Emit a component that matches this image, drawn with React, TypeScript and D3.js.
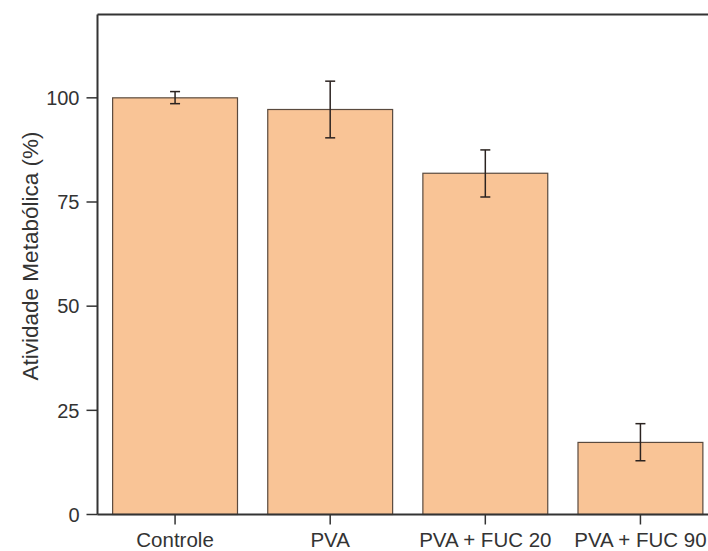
import React from "react";
import * as d3 from "d3";

const categories = ["Controle", "PVA", "PVA + FUC 20", "PVA + FUC 90"];
const values = [100.0, 97.2, 81.9, 17.3];
const errLow = [98.6, 90.4, 76.2, 12.9];
const errHigh = [101.5, 104.0, 87.5, 21.8];
const yTicks = [0, 25, 50, 75, 100];

export default function App() {
  const W = 708, H = 551;
  const left = 97.5, right = 718, top = 14.5, bottom = 514.5;
  const x = d3.scaleBand<string>().domain(categories).range([left, right]).padding(0);
  const y = d3.scaleLinear().domain([0, 120]).range([bottom, top]);
  const bw = x.bandwidth() * 0.805;
  const capW = 10;
  const font = "Liberation Sans, Arial, sans-serif";
  return (
    <svg width={W} height={H} style={{ position: "absolute", left: 0, top: 0, background: "#fff" }}>
      {categories.map((c, i) => {
        const cx = x(c)! + x.bandwidth() / 2;
        return (
          <g key={c}>
            <rect x={cx - bw / 2} y={y(values[i])} width={bw} height={y(0) - y(values[i])}
              fill="#F9C496" stroke="#5a4a3e" strokeWidth={1.2} />
            <line x1={cx} x2={cx} y1={y(errLow[i])} y2={y(errHigh[i])} stroke="#2b2320" strokeWidth={1.5} />
            <line x1={cx - capW / 2} x2={cx + capW / 2} y1={y(errLow[i])} y2={y(errLow[i])} stroke="#2b2320" strokeWidth={1.5} />
            <line x1={cx - capW / 2} x2={cx + capW / 2} y1={y(errHigh[i])} y2={y(errHigh[i])} stroke="#2b2320" strokeWidth={1.5} />
            <line x1={cx} x2={cx} y1={bottom} y2={bottom + 10} stroke="#333" strokeWidth={1.5} />
            <text x={cx} y={546.5} textAnchor="middle" fontFamily={font} fontSize={20.5} fill="#333">{c}</text>
          </g>
        );
      })}
      <line x1={left} x2={left} y1={top} y2={bottom} stroke="#333" strokeWidth={2} />
      <line x1={left} x2={right} y1={top} y2={top} stroke="#333" strokeWidth={2} />
      <line x1={left} x2={right} y1={bottom} y2={bottom} stroke="#333" strokeWidth={2} />
      {yTicks.map((t) => (
        <g key={t}>
          <line x1={left - 11} x2={left} y1={y(t)} y2={y(t)} stroke="#333" strokeWidth={1.5} />
          <text x={left - 18} y={y(t)} dy="0.36em" textAnchor="end" fontFamily={font} fontSize={20} fill="#333">{t}</text>
        </g>
      ))}
      <text transform={`translate(38,${256}) rotate(-90)`} textAnchor="middle" fontFamily={font} fontSize={22.5} fill="#333">
        Atividade Metabólica (%)
      </text>
    </svg>
  );
}
